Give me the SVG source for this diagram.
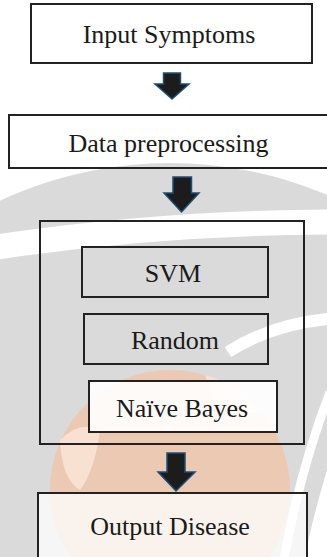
<svg xmlns="http://www.w3.org/2000/svg" width="327" height="557" viewBox="0 0 327 557">
  <style>
    .box { fill: none; stroke: #222; stroke-width: 2; }
    .lbl { font-family: "Liberation Serif", "Times New Roman", serif; font-size: 26px; fill: #1a1a1a; text-anchor: middle; }
    .arrow { fill: #1c1c1c; stroke: #1f4e79; stroke-width: 1.5; stroke-linejoin: miter; }
    .wm { fill: none; stroke: #ffffff; }
  </style>
  <rect width="327" height="557" fill="#ffffff"/>
  <g id="watermark">
    <circle cx="170" cy="565" r="402" fill="#dadada"/>
    <path class="wm" d="M -10 248 Q 160 222 340 222" stroke-width="25"/>
    <path class="wm" d="M 228 352 Q 275 322 340 318" stroke-width="12"/>
    <path class="wm" d="M 330 392 Q 300 470 284 560" stroke-width="9"/>
    <path d="M 327 470 Q 312 520 305 557 L 327 557 Z" fill="#ffffff"/>
    <circle cx="170" cy="490" r="120" fill="#f4c2a2" opacity="0.7"/>
    <path d="M 60 440 Q 80 420 100 430 Q 95 470 80 490 Q 62 480 60 440 Z" fill="#fbe3d4" opacity="0.9"/>
    <path d="M 205 375 Q 240 385 262 410 Q 240 420 215 405 Z" fill="#fbe3d4" opacity="0.8"/>
  </g>
  <g id="connectors">
    <path class="arrow" d="M163.5 73 H180.5 V84 H189 L172 99 L155 84 H163.5 Z"/>
    <path class="arrow" d="M173 177 H191.5 V193 H199 L181.5 212 L164 193 H173 Z"/>
    <path class="arrow" d="M167 453 H185 V472 H195 L176 491 L158 472 H167 Z"/>
  </g>
  <g id="input-symptoms">
    <rect class="box" x="31" y="4" width="281" height="59"/>
    <text class="lbl" x="169" y="43">Input Symptoms</text>
  </g>
  <g id="data-preprocessing">
    <rect class="box" x="9" y="115" width="330" height="53"/>
    <text class="lbl" x="168.5" y="152">Data preprocessing</text>
  </g>
  <g id="models">
    <rect class="box" x="40" y="221" width="264" height="223"/>
  </g>
  <g id="svm">
    <rect class="box" x="82" y="247" width="186" height="50"/>
    <text class="lbl" x="173" y="282">SVM</text>
  </g>
  <g id="random">
    <rect class="box" x="84" y="314" width="184" height="50"/>
    <text class="lbl" x="175" y="349">Random</text>
  </g>
  <g id="naive-bayes">
    <rect class="box" x="89" y="381" width="188" height="51" style="fill:#ffffff;fill-opacity:0.9"/>
    <text class="lbl" x="182" y="417">Naïve Bayes</text>
  </g>
  <g id="output-disease">
    <rect class="box" x="38" y="493" width="269" height="70" style="fill:#ffffff;fill-opacity:0.75"/>
    <text class="lbl" x="170" y="535">Output Disease</text>
  </g>
</svg>
